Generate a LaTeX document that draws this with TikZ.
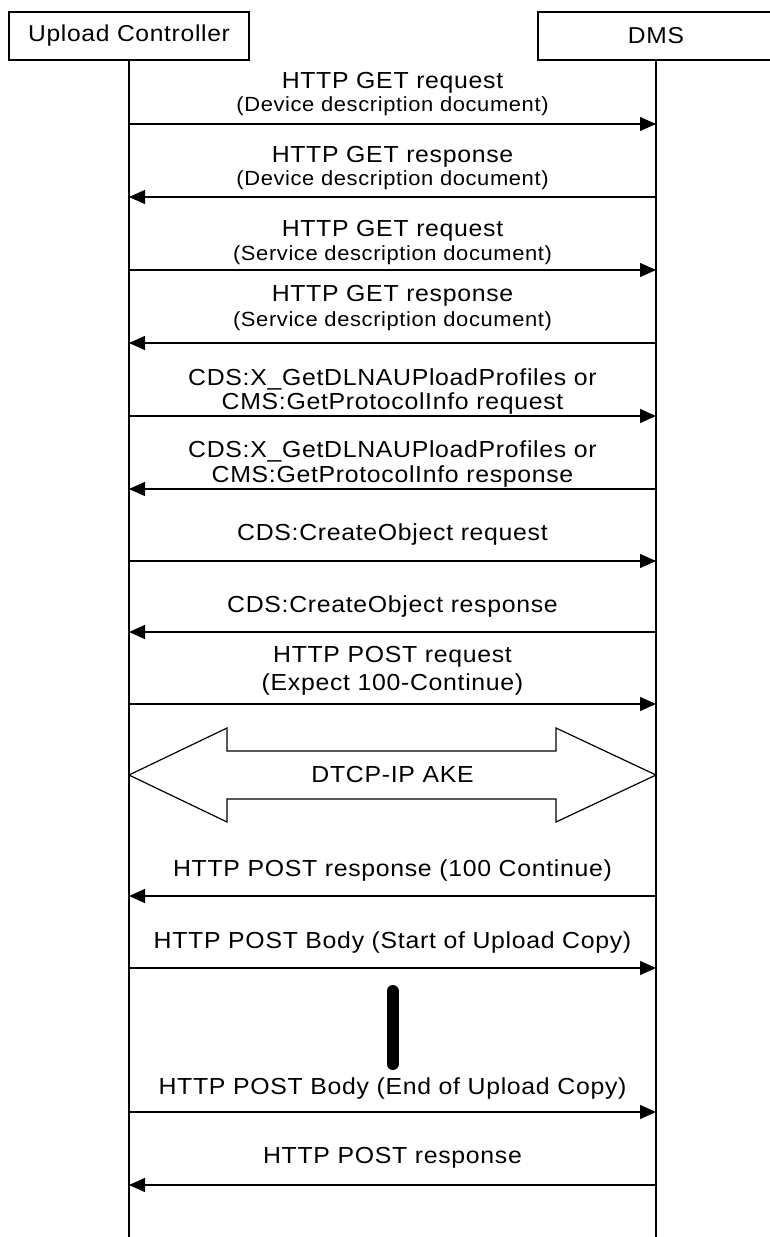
\documentclass[tikz,border=0pt]{standalone}
\usepackage{fontspec}
\setmainfont{Liberation Sans}[LetterSpace=3,FakeStretch=1.07]
\usetikzlibrary{arrows.meta}
\begin{document}
\begin{tikzpicture}[x=1pt,y=-1pt,
  lifebox/.style={draw, line width=1.2pt, minimum width=240pt, minimum height=48pt, inner sep=0pt, font=\fontsize{23}{27}\selectfont},
  lifeline/.style={line width=1.2pt},
  msg/.style={line width=1.2pt, -{Triangle[length=16pt,width=14pt]}},
  big/.style={font=\fontsize{23.2}{27}\selectfont, inner sep=0pt},
  small/.style={font=\fontsize{20.5}{24}\selectfont, inner sep=0pt},
  ake/.style={draw, line width=1.2pt, fill=white},
  bar/.style={line width=12pt, line cap=round},
]
\useasboundingbox (0,0) rectangle (770,1237);
\fill[white] (0,0) rectangle (770,1237);
% participants
\node[lifebox] (uc) at (129,36) {Upload Controller};
\node[lifebox, minimum width=236pt] (dms) at (656,36) {DMS};
\coordinate (ucend) at (129,1240);
\coordinate (dmsend) at (656,1240);
\draw[lifeline] (uc.south) -- (ucend);
\draw[lifeline] (dms.south) -- (dmsend);
% message anchor points
\foreach \i/\y in {1/124,2/197,3/270,4/343,5/416,6/489,7/561,8/632,9/704,10/896,11/968,12/1112,13/1185}{
  \coordinate (u\i) at (129,\y);
  \coordinate (d\i) at (656,\y);
}
% messages
\draw[msg] (u1) -- (d1);
\node[big] (t1a) at (392.5,83) {HTTP GET request};
\node[small] (t1b) at (392.5,106) {(Device description document)};

\draw[msg] (d2) -- (u2);
\node[big] (t2a) at (392.5,157) {HTTP GET response};
\node[small] (t2b) at (392.5,180) {(Device description document)};

\draw[msg] (u3) -- (d3);
\node[big] (t3a) at (392.5,231) {HTTP GET request};
\node[small] (t3b) at (392.5,255) {(Service description document)};

\draw[msg] (d4) -- (u4);
\node[big] (t4a) at (392.5,296) {HTTP GET response};
\node[small] (t4b) at (392.5,321) {(Service description document)};

\draw[msg] (u5) -- (d5);
\node[big] (t5a) at (392.5,379) {CDS:X\_GetDLNAUPloadProfiles or};
\node[big] (t5b) at (392.5,403) {CMS:GetProtocolInfo request};

\draw[msg] (d6) -- (u6);
\node[big] (t6a) at (392.5,451) {CDS:X\_GetDLNAUPloadProfiles or};
\node[big] (t6b) at (392.5,476) {CMS:GetProtocolInfo response};

\draw[msg] (u7) -- (d7);
\node[big] (t7) at (392.5,534) {CDS:CreateObject request};

\draw[msg] (d8) -- (u8);
\node[big] (t8) at (392.5,606) {CDS:CreateObject response};

\draw[msg] (u9) -- (d9);
\node[big] (t9a) at (392.5,657) {HTTP POST request};
\node[big] (t9b) at (392.5,684) {(Expect 100-Continue)};

% DTCP-IP AKE double arrow
\draw[ake] (129,775) -- (227,728) -- (227,751) -- (556,751) -- (556,728) -- (656,775)
  -- (556,822) -- (556,799) -- (227,799) -- (227,822) -- cycle;
\node[big] (akel) at (392.5,775) {DTCP-IP AKE};

\draw[msg] (d10) -- (u10);
\node[big] (t10) at (392.5,870) {HTTP POST response (100 Continue)};

\draw[msg] (u11) -- (d11);
\node[big] (t11) at (392.5,942) {HTTP POST Body (Start of Upload Copy)};

% continuation bar
\draw[bar] (392.5,991) -- (392.5,1064);

\draw[msg] (u12) -- (d12);
\node[big] (t12) at (392.5,1088) {HTTP POST Body (End of Upload Copy)};

\draw[msg] (d13) -- (u13);
\node[big] (t13) at (392.5,1158) {HTTP POST response};
\end{tikzpicture}
\end{document}
